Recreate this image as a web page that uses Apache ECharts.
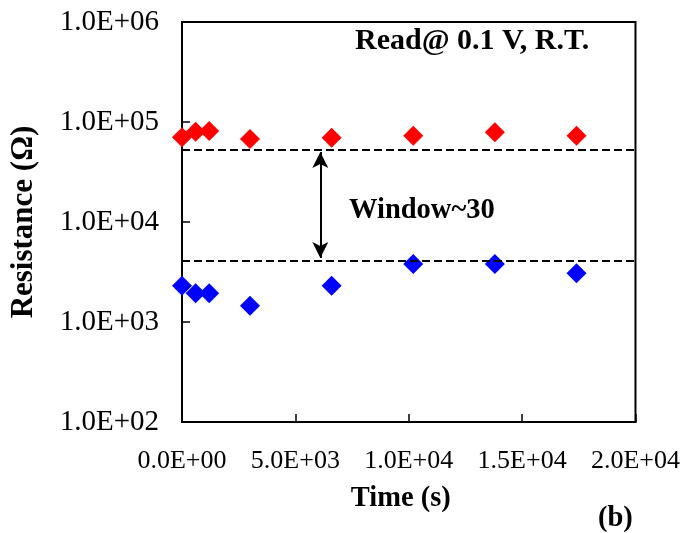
<!DOCTYPE html>
<html>
<head>
<meta charset="utf-8">
<script src="https://cdn.jsdelivr.net/npm/echarts@6/dist/echarts.min.js"></script>
<style>
html,body{margin:0;padding:0;background:#fff;}
#chart{width:683px;height:533px;}
</style>
</head>
<body>
<div id="chart"></div>
<script>
// ---- data ----
var times = [0, 600, 1200, 3000, 6600, 10200, 13800, 17400];
var highRes = [70300, 80000, 81300, 67600, 69700, 73000, 78900, 73000];
var lowRes = [2310, 1940, 1940, 1450, 2310, 3800, 3800, 3070];
var windowLines = [52500, 4100];
var arrowX = 6100;
var arrowEnds = [50100, 4370];
var xTickLabels = ['0.0E+00', '5.0E+03', '1.0E+04', '1.5E+04', '2.0E+04'];
var yTickLabels = ['1.0E+02', '1.0E+03', '1.0E+04', '1.0E+05', '1.0E+06'];
var yTickValues = [100, 1000, 10000, 100000, 1000000];

var serif = '"Liberation Serif", "Times New Roman", serif';
var chart = echarts.init(document.getElementById('chart'), null, {renderer: 'canvas'});

var option = {
  animation: false,
  backgroundColor: '#fff',
  grid: {left: 182, right: 46, top: 22, bottom: 111, show: true, borderColor: '#000', borderWidth: 2, backgroundColor: 'transparent'},
  xAxis: {
    type: 'value', min: 0, max: 20000, interval: 5000,
    name: 'Time (s)', nameLocation: 'middle', nameGap: 62,
    nameTextStyle: {fontFamily: serif, fontSize: 28.5, fontWeight: 'bold', color: '#000', padding: [0, 16, 0, 0]},
    axisLine: {show: true, lineStyle: {color: '#000', width: 2}},
    axisTick: {show: true, inside: true, length: 8, lineStyle: {color: '#000', width: 1.5}},
    splitLine: {show: false},
    axisLabel: {
      margin: 26, fontFamily: serif, fontSize: 26, color: '#000',
      formatter: function (v) { return xTickLabels[Math.round(v / 5000)]; }
    }
  },
  yAxis: {
    type: 'log', logBase: 10, min: 100, max: 1000000, interval: 1,
    name: 'Resistance (Ω)', nameLocation: 'middle', nameGap: 143, nameRotate: 90,
    nameTextStyle: {fontFamily: serif, fontSize: 31, fontWeight: 'bold', color: '#000'},
    axisLine: {show: true, lineStyle: {color: '#000', width: 2}},
    axisTick: {show: true, inside: true, length: 8, lineStyle: {color: '#000', width: 1.5}},
    splitLine: {show: false},
    axisLabel: {
      margin: 23, fontFamily: serif, fontSize: 29, color: '#000',
      formatter: function (v) {
        var i = yTickValues.indexOf(Math.round(v));
        return i >= 0 ? yTickLabels[i] : '';
      }
    }
  },
  series: [
    {
      type: 'scatter', name: 'HRS', symbol: 'diamond', symbolSize: 20, clip: false,
      itemStyle: {color: '#FF0000', opacity: 1},
      data: times.map(function (t, i) { return [t, highRes[i]]; }),
      markLine: {
        silent: true, symbol: ['none', 'none'], animation: false,
        label: {show: false},
        lineStyle: {color: '#000', width: 2, type: [8, 4]},
        data: windowLines.map(function (v) { return {yAxis: v}; })
      }
    },
    {
      type: 'scatter', name: 'LRS', symbol: 'diamond', symbolSize: 20, clip: false,
      itemStyle: {color: '#0000FF', opacity: 1},
      data: times.map(function (t, i) { return [t, lowRes[i]]; }),
      markLine: {
        silent: true, symbol: ['arrow', 'arrow'], symbolSize: [12, 16], animation: false,
        label: {show: false},
        lineStyle: {color: '#000', width: 2, type: 'solid'},
        data: [[{coord: [arrowX, arrowEnds[0]]}, {coord: [arrowX, arrowEnds[1]]}]]
      }
    }
  ],
  graphic: [
    {type: 'text', left: 355, top: 26, style: {text: 'Read@ 0.1 V, R.T.', font: 'bold 30px ' + serif, fill: '#000'}},
    {type: 'text', left: 349, top: 196, style: {text: 'Window~30', font: 'bold 28.5px ' + serif, fill: '#000'}},
    {type: 'text', left: 598, top: 504, style: {text: '(b)', font: 'bold 28.5px ' + serif, fill: '#000'}}
  ]
};
chart.setOption(option);
</script>
</body>
</html>
